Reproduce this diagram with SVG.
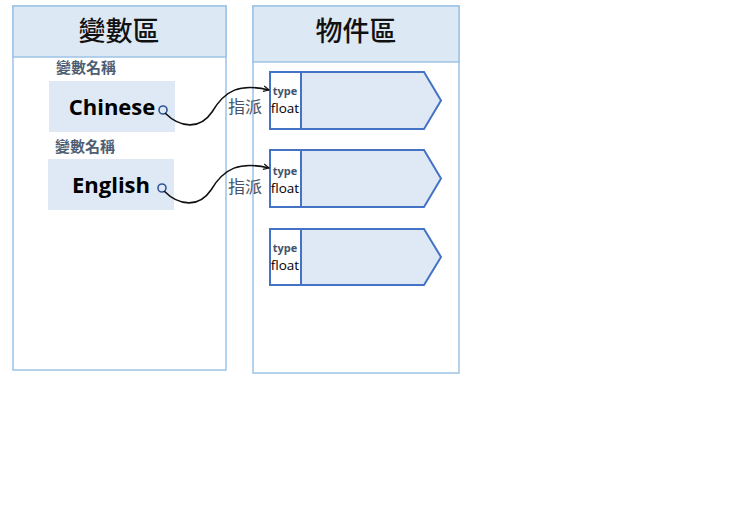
<svg xmlns="http://www.w3.org/2000/svg" width="741" height="522" viewBox="0 0 741 522">
<style>
.panel{fill:#ffffff;stroke:#9dc3e6;stroke-width:1.5}
.hdr{fill:#dde8f5;stroke:#9dc3e6;stroke-width:1.5}
.htxt{font-family:"Noto Sans CJK TC","Noto Sans CJK SC",sans-serif;font-size:27px;font-weight:500;fill:#111;text-anchor:middle}
.lbl{font-family:"Noto Sans CJK TC","Noto Sans CJK SC",sans-serif;font-size:15px;font-weight:bold;fill:#4f5e73}
.var{fill:#dee9f5}
.vtxt{font-family:"Open Sans","Liberation Sans",sans-serif;font-size:22px;font-weight:bold;fill:#000;text-anchor:middle}
.dot{fill:none;stroke:#2f5597;stroke-width:1.6}
.obj{fill:#dee9f5;stroke:#4472c4;stroke-width:2}
.cell{fill:#ffffff;stroke:#4472c4;stroke-width:2}
.type{font-family:"Open Sans","Liberation Sans",sans-serif;font-size:11px;font-weight:bold;fill:#44546a;text-anchor:middle}
.flt{font-family:"Open Sans","Liberation Sans",sans-serif;font-size:13.5px;fill:#000;text-anchor:middle}
.conn{fill:none;stroke:#111;stroke-width:1.6}
.asg{font-family:"Noto Sans CJK TC","Noto Sans CJK SC",sans-serif;font-size:17px;fill:#44546a}
</style>
<defs>
<marker id="arr" viewBox="0 0 10 10" refX="9" refY="5" markerWidth="7" markerHeight="7" orient="auto" markerUnits="userSpaceOnUse">
<path d="M1,1 L9,5 L1,9" fill="none" stroke="#111" stroke-width="1.6"/>
</marker>
</defs>
<g id="var-area">
<rect class="panel" x="13" y="6" width="213" height="364"/>
<rect class="hdr" x="13" y="6" width="213" height="51"/>
<text class="htxt" x="119" y="41">變數區</text>
</g>
<g id="obj-area">
<rect class="panel" x="253" y="6" width="206" height="367"/>
<rect class="hdr" x="253" y="6" width="206" height="56"/>
<text class="htxt" x="356" y="41">物件區</text>
</g>
<g id="var-chinese">
<text class="lbl" x="56" y="73">變數名稱</text>
<rect class="var" x="49" y="81" width="126" height="51"/>
<text class="vtxt" x="112" y="115">Chinese</text>
<circle class="dot" cx="163" cy="110" r="4"/>
</g>
<g id="var-english">
<text class="lbl" x="55" y="152">變數名稱</text>
<rect class="var" x="48" y="159" width="126" height="51"/>
<text class="vtxt" x="111" y="193">English</text>
<circle class="dot" cx="162" cy="188" r="4"/>
</g>
<g id="obj1">
<path class="obj" d="M301,72 L424,72 L441,100.5 L424,129 L301,129 Z"/>
<rect class="cell" x="270" y="72" width="31" height="57"/>
<text class="type" x="285" y="95">type</text>
<text class="flt" x="285" y="113">float</text>
</g>
<g id="obj2">
<path class="obj" d="M301,150 L424,150 L441,178.5 L424,207 L301,207 Z"/>
<rect class="cell" x="270" y="150" width="31" height="57"/>
<text class="type" x="285" y="175">type</text>
<text class="flt" x="285" y="193">float</text>
</g>
<g id="obj3">
<path class="obj" d="M301,229 L424,229 L441,257 L424,285 L301,285 Z"/>
<rect class="cell" x="270" y="229" width="31" height="56"/>
<text class="type" x="285" y="252">type</text>
<text class="flt" x="285" y="270">float</text>
</g>
<g id="connectors">
<path class="conn" marker-end="url(#arr)" d="M165,113 C180,128 200,130 212,112 C225,90 240,83 269,90"/>
<path class="conn" marker-end="url(#arr)" d="M164,191 C179,206 199,208 211,190 C224,168 240,161 269,168"/>
<text class="asg" x="228" y="113">指派</text>
<text class="asg" x="228" y="193">指派</text>
</g>
</svg>
